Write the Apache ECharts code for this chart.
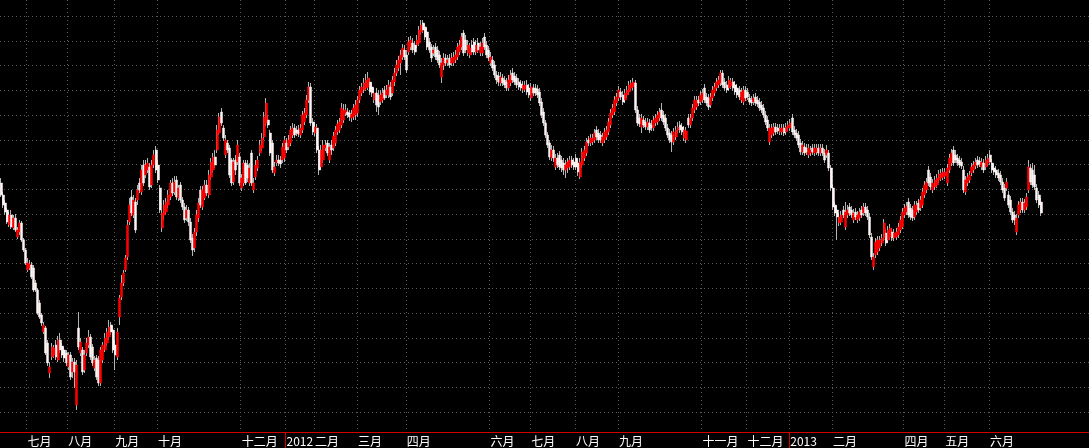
<!DOCTYPE html>
<html><head><meta charset="utf-8">
<script src="https://cdn.jsdelivr.net/npm/echarts@6/dist/echarts.min.js"></script>
<style>html,body{margin:0;padding:0;background:#000;}#c{width:1089px;height:448px;}</style>
</head><body><div id="c"></div>
<script>
const opens = [
2209,2197,2189,2182,2167,2177,2164,2174,2155,2160,
2169,2152,2142,2122,2124,2127,2124,2109,2102,2089,
2077,2060,2064,2049,2019,2035,2037,2047,2032,2052,
2046,2042,2039,2025,2037,2020,2030,1987,2064,2039,
2042,2022,2039,2047,2055,2045,2024,2034,2032,2009,
2032,2042,2049,2055,2067,2062,2047,2035,2075,2095,
2109,2122,2135,2170,2195,2177,2190,2192,2209,2200,
2227,2217,2222,2225,2207,2227,2242,2227,2204,2164,
2177,2180,2187,2195,2209,2200,2212,2194,2207,2192,
2185,2174,2182,2170,2154,2144,2160,2174,2202,2185,
2194,2207,2197,2215,2222,2235,2242,2259,2280,2264,
2237,2249,2244,2232,2210,2232,2230,2235,2204,2209,
2229,2227,2209,2239,2202,2215,2224,2239,2244,2255,
2269,2272,2259,2249,2219,2229,2232,2232,2232,2234,
2249,2245,2249,2257,2264,2262,2262,2257,2262,2270,
2277,2292,2305,2270,2259,2264,2242,2225,2232,2244,
2249,2232,2247,2244,2249,2260,2262,2267,2272,2279,
2280,2279,2274,2275,2277,2279,2292,2299,2302,2304,
2305,2310,2305,2292,2299,2297,2290,2292,2302,2297,
2297,2305,2299,2310,2319,2324,2329,2335,2342,2337,
2340,2345,2349,2347,2347,2349,2360,2369,2365,2360,
2350,2345,2339,2345,2342,2337,2315,2327,2334,2329,
2334,2329,2329,2332,2335,2340,2345,2359,2352,2339,
2337,2347,2350,2340,2349,2339,2339,2355,2347,2342,
2329,2332,2327,2317,2316,2309,2314,2312,2310,2304,
2309,2319,2316,2314,2310,2308,2302,2303,2307,2304,
2294,2304,2304,2303,2300,2290,2280,2269,2257,2249,
2234,2242,2225,2234,2237,2232,2229,2222,2224,2225,
2232,2230,2234,2229,2215,2227,2234,2239,2252,2249,
2250,2252,2262,2259,2257,2249,2252,2255,2260,2267,
2277,2280,2289,2294,2300,2297,2292,2297,2300,2304,
2305,2309,2282,2274,2265,2272,2270,2265,2269,2267,
2264,2269,2270,2274,2282,2277,2274,2264,2259,2257,
2250,2255,2262,2267,2265,2254,2252,2274,2267,2274,
2282,2285,2292,2290,2292,2304,2295,2294,2287,2294,
2299,2304,2307,2309,2319,2310,2307,2304,2306,2310,
2307,2304,2302,2292,2290,2302,2300,2294,2292,2290,
2295,2292,2290,2287,2284,2277,2272,2250,2257,2259,
2265,2264,2260,2260,2264,2260,2264,2264,2274,2262,
2259,2257,2249,2240,2245,2244,2237,2239,2244,2239,
2240,2244,2239,2244,2239,2237,2239,2224,2204,2187,
2182,2169,2170,2182,2165,2177,2185,2182,2172,2180,
2172,2174,2182,2179,2185,2182,2175,2155,2125,2137,
2140,2144,2149,2154,2159,2152,2155,2160,2154,2155,
2157,2162,2165,2177,2180,2190,2184,2182,2175,2180,
2189,2184,2187,2197,2202,2222,2215,2202,2205,2207,
2212,2214,2215,2216,2209,2222,2229,2242,2237,2234,
2232,2230,2222,2200,2209,2212,2219,2222,2226,2232,
2231,2225,2229,2225,2229,2237,2229,2224,2222,2219,
2217,2210,2204,2204,2197,2192,2180,2177,2160,2177,
2182,2190,2182,2185,2202,2224,2222,2217,2204,2197,
2190
];
const closes = [
2197,2187,2180,2170,2177,2165,2174,2162,2162,2169,
2152,2142,2129,2129,2128,2115,2102,2102,2079,2075,
2069,2067,2039,2029,2025,2045,2044,2035,2052,2042,
2037,2034,2029,2037,2015,2030,2020,2027,2045,2050,
2020,2037,2049,2055,2035,2029,2032,2015,2009,2042,
2047,2054,2060,2065,2060,2042,2037,2060,2094,2109,
2119,2134,2167,2187,2179,2192,2162,2202,2202,2222,
2209,2227,2229,2205,2227,2237,2222,2212,2182,2179,
2187,2190,2197,2209,2199,2210,2195,2204,2192,2185,
2172,2182,2170,2152,2142,2160,2177,2189,2187,2202,
2207,2199,2217,2230,2235,2227,2262,2275,2269,2254,
2252,2242,2217,2209,2230,2222,2247,2209,2214,2229,
2209,2214,2224,2209,2209,2227,2232,2247,2254,2275,
2289,2267,2239,2222,2225,2232,2229,2228,2245,2252,
2242,2252,2262,2264,2257,2259,2258,2264,2277,2279,
2292,2305,2269,2260,2265,2242,2222,2242,2247,2247,
2239,2245,2242,2256,2262,2268,2270,2284,2282,2282,
2277,2275,2278,2284,2287,2292,2302,2305,2309,2312,
2314,2300,2299,2299,2287,2285,2297,2299,2294,2302,
2307,2295,2312,2319,2327,2332,2337,2344,2335,2322,
2350,2352,2342,2340,2352,2362,2367,2362,2355,2345,
2342,2334,2342,2335,2332,2327,2329,2334,2329,2332,
2327,2334,2335,2337,2345,2347,2355,2339,2342,2347,
2344,2340,2340,2347,2342,2345,2349,2345,2337,2334,
2335,2324,2317,2312,2310,2315,2309,2307,2304,2312,
2317,2312,2310,2307,2305,2304,2307,2307,2300,2297,
2305,2299,2299,2297,2289,2277,2269,2257,2247,2235,
2242,2234,2234,2227,2225,2224,2222,2227,2230,2232,
2227,2225,2225,2220,2230,2240,2242,2250,2249,2254,
2254,2259,2255,2252,2252,2255,2260,2262,2270,2279,
2284,2292,2295,2302,2295,2290,2299,2302,2307,2309,
2310,2282,2269,2268,2274,2267,2265,2270,2262,2264,
2272,2274,2277,2280,2274,2270,2264,2257,2252,2250,
2260,2262,2265,2262,2260,2262,2261,2267,2274,2284,
2292,2292,2289,2297,2299,2292,2289,2285,2295,2302,
2305,2310,2312,2319,2307,2304,2302,2312,2310,2304,
2300,2297,2295,2300,2302,2294,2295,2290,2289,2294,
2289,2288,2284,2282,2277,2270,2264,2264,2264,2265,
2260,2261,2264,2264,2259,2265,2267,2269,2260,2257,
2254,2247,2240,2247,2239,2240,2244,2242,2240,2244,
2244,2239,2244,2239,2232,2242,2224,2204,2185,2179,
2175,2175,2177,2177,2180,2182,2179,2177,2179,2175,
2177,2180,2177,2185,2179,2175,2157,2135,2135,2150,
2152,2152,2154,2169,2149,2162,2164,2154,2159,2160,
2165,2172,2180,2184,2186,2177,2175,2174,2187,2187,
2182,2192,2200,2207,2210,2209,2205,2209,2212,2214,
2218,2219,2220,2220,2224,2234,2239,2229,2232,2229,
2227,2226,2202,2212,2215,2217,2225,2227,2230,2227,
2228,2230,2222,2232,2234,2230,2222,2220,2217,2214,
2210,2202,2194,2210,2187,2180,2172,2172,2174,2187,
2190,2182,2189,2195,2225,2210,2207,2205,2192,2187,
2179
];
const lows = [
2195,2184,2177,2168,2165,2163,2162,2160,2153,2157,
2150,2140,2127,2120,2122,2113,2100,2100,2077,2073,
2066,2058,2037,2026,2014,2032,2034,2032,2030,2039,
2034,2030,2026,2022,2012,2014,2004,1982,2042,2036,
2017,2019,2036,2044,2032,2026,2021,2012,2006,2006,
2029,2040,2046,2052,2057,2039,2022,2032,2067,2092,
2106,2120,2132,2167,2176,2174,2159,2187,2199,2197,
2206,2214,2219,2202,2204,2224,2219,2209,2179,2160,
2172,2177,2184,2192,2196,2197,2192,2191,2189,2182,
2169,2171,2166,2149,2136,2140,2156,2170,2184,2182,
2192,2196,2194,2212,2219,2224,2239,2257,2266,2251,
2234,2239,2214,2206,2207,2217,2227,2206,2201,2206,
2207,2210,2206,2206,2199,2212,2221,2236,2241,2252,
2266,2264,2236,2219,2216,2226,2226,2224,2229,2230,
2239,2242,2246,2254,2254,2256,2255,2254,2259,2267,
2274,2289,2266,2257,2256,2239,2217,2222,2229,2241,
2236,2229,2237,2241,2246,2257,2259,2264,2269,2276,
2274,2271,2270,2272,2272,2275,2289,2296,2299,2301,
2302,2297,2295,2289,2280,2277,2287,2289,2292,2294,
2294,2292,2296,2306,2316,2321,2317,2332,2332,2319,
2337,2342,2339,2337,2344,2346,2357,2359,2352,2342,
2339,2330,2336,2332,2329,2324,2309,2322,2326,2326,
2324,2326,2326,2329,2332,2337,2342,2336,2339,2336,
2334,2337,2337,2337,2339,2336,2336,2342,2334,2331,
2326,2321,2314,2308,2306,2306,2306,2304,2301,2301,
2306,2309,2307,2304,2302,2301,2299,2300,2297,2294,
2291,2296,2296,2294,2286,2274,2266,2254,2244,2232,
2231,2230,2222,2224,2222,2220,2217,2214,2219,2222,
2224,2222,2222,2216,2213,2224,2231,2236,2246,2246,
2247,2249,2252,2249,2249,2246,2249,2252,2257,2264,
2274,2277,2286,2291,2292,2287,2289,2294,2297,2301,
2302,2279,2266,2265,2259,2264,2262,2262,2259,2261,
2261,2266,2267,2271,2271,2267,2261,2254,2249,2240,
2247,2252,2259,2259,2257,2251,2249,2264,2264,2271,
2279,2282,2286,2287,2289,2289,2286,2282,2284,2291,
2296,2301,2304,2306,2304,2301,2299,2301,2303,2301,
2297,2294,2292,2289,2287,2291,2292,2287,2286,2287,
2286,2285,2281,2279,2274,2267,2261,2247,2254,2256,
2257,2258,2257,2257,2256,2257,2261,2261,2257,2254,
2251,2244,2237,2237,2236,2237,2234,2236,2237,2236,
2237,2236,2236,2236,2229,2234,2221,2201,2182,2176,
2152,2166,2167,2174,2162,2174,2176,2174,2169,2172,
2169,2171,2174,2176,2176,2172,2154,2132,2122,2134,
2137,2141,2146,2151,2146,2149,2152,2151,2151,2152,
2154,2159,2163,2174,2177,2174,2172,2171,2172,2177,
2179,2181,2184,2194,2199,2206,2202,2199,2202,2204,
2209,2211,2212,2213,2206,2219,2226,2226,2229,2226,
2224,2223,2199,2197,2206,2209,2216,2219,2223,2224,
2225,2222,2219,2222,2226,2227,2219,2217,2214,2211,
2207,2199,2191,2201,2184,2177,2169,2167,2157,2174,
2179,2179,2179,2182,2199,2207,2204,2202,2189,2184,
2176
];
const highs = [
2214,2200,2192,2184,2180,2182,2177,2178,2165,2172,
2171,2154,2144,2134,2132,2130,2127,2112,2104,2092,
2079,2070,2066,2052,2030,2049,2047,2052,2056,2059,
2049,2045,2042,2040,2040,2034,2034,2032,2080,2054,
2045,2042,2054,2062,2058,2048,2036,2037,2036,2045,
2050,2059,2064,2072,2070,2066,2052,2064,2097,2117,
2122,2137,2172,2194,2202,2197,2194,2207,2214,2227,
2232,2232,2234,2229,2232,2242,2246,2232,2207,2182,
2192,2194,2202,2212,2214,2216,2216,2207,2210,2195,
2189,2187,2185,2174,2158,2164,2182,2194,2206,2206,
2212,2212,2222,2234,2239,2242,2267,2279,2284,2267,
2257,2252,2247,2234,2234,2237,2252,2239,2218,2232,
2232,2232,2229,2242,2214,2232,2236,2252,2259,2280,
2294,2277,2262,2252,2230,2237,2237,2236,2249,2256,
2254,2257,2266,2269,2268,2266,2267,2268,2281,2284,
2297,2310,2309,2274,2270,2268,2246,2247,2252,2252,
2252,2249,2252,2260,2266,2272,2274,2289,2288,2288,
2284,2282,2282,2288,2292,2296,2306,2309,2314,2318,
2320,2314,2309,2304,2304,2302,2302,2304,2306,2307,
2312,2310,2316,2324,2332,2336,2342,2348,2347,2342,
2355,2356,2354,2351,2357,2366,2372,2372,2368,2364,
2354,2348,2347,2349,2346,2341,2334,2339,2338,2337,
2338,2339,2340,2342,2349,2352,2359,2362,2357,2352,
2349,2352,2354,2352,2354,2350,2354,2359,2351,2346,
2340,2336,2331,2321,2320,2320,2318,2316,2314,2317,
2322,2324,2320,2318,2314,2312,2311,2311,2312,2308,
2309,2308,2308,2307,2304,2294,2284,2272,2260,2252,
2247,2246,2238,2239,2241,2236,2234,2232,2234,2236,
2236,2234,2238,2233,2234,2244,2246,2254,2256,2258,
2258,2263,2266,2263,2261,2259,2264,2266,2274,2283,
2288,2296,2299,2306,2304,2301,2303,2306,2311,2312,
2314,2312,2286,2278,2278,2276,2274,2274,2273,2272,
2276,2278,2281,2284,2289,2281,2278,2268,2263,2261,
2264,2266,2270,2271,2269,2266,2265,2278,2278,2288,
2296,2296,2296,2301,2303,2308,2299,2298,2299,2306,
2309,2314,2316,2322,2322,2314,2311,2316,2314,2314,
2311,2308,2306,2304,2306,2306,2304,2298,2296,2298,
2299,2296,2294,2291,2288,2281,2276,2268,2268,2269,
2269,2268,2268,2268,2268,2269,2271,2273,2278,2266,
2263,2261,2253,2251,2249,2248,2248,2246,2248,2248,
2248,2248,2248,2248,2243,2247,2242,2227,2207,2190,
2186,2179,2181,2186,2190,2187,2189,2186,2183,2184,
2181,2184,2186,2189,2189,2186,2179,2159,2139,2154,
2156,2156,2158,2173,2163,2166,2168,2164,2163,2164,
2169,2176,2184,2188,2190,2194,2188,2186,2191,2191,
2193,2196,2204,2211,2214,2226,2219,2213,2216,2218,
2222,2223,2224,2224,2228,2238,2243,2246,2242,2238,
2236,2234,2226,2216,2219,2221,2229,2231,2234,2236,
2235,2234,2233,2236,2238,2242,2233,2228,2226,2223,
2221,2214,2208,2214,2201,2196,2184,2181,2178,2191,
2194,2194,2193,2199,2232,2228,2229,2227,2208,2201,
2194
];
const monthLabels = ['七月','八月','九月','十月','十二月','2012','二月','三月','四月','六月','七月','八月','九月','十一月','十二月','2013','二月','四月','五月','六月'];
const monthStartIndex = [13,33,56,77,118,140,154,175,199,240,260,282,303,344,366,387,408,443,463,485];
const yearStartIndex = [140,387];
const totalSlots = 534;
const gridLevels = [1980,2004.75,2029.5,2054.25,2079,2103.75,2128.5,2153.25,2178,2202.75,2227.5,2252.25,2277,2301.75,2326.5,2351.25,2376];

const categories = Array.from({length: totalSlots}, (_, i) => 'd' + i);
const labelAt = {};
monthStartIndex.forEach((idx, k) => { labelAt[idx] = monthLabels[k]; });
const yearSet = new Set(yearStartIndex);
const ohlc = opens.map((o, i) => [o, closes[i], lows[i], highs[i]]);
const bodies = opens.map((o, i) => [o, closes[i], Math.min(o, closes[i]), Math.max(o, closes[i])]);
const idxOf = v => parseInt(String(v).slice(1), 10);

const chart = echarts.init(document.getElementById('c'), null, {renderer: 'canvas'});
chart.setOption({
  backgroundColor: '#000000',
  animation: false,
  grid: {left: 0, right: 0, top: 0, bottom: 16},
  xAxis: {
    type: 'category',
    data: categories,
    boundaryGap: true,
    axisLine: {show: true, lineStyle: {color: '#d40000', width: 1}},
    axisTick: {show: true, interval: (i) => yearSet.has(i), length: 16, lineStyle: {color: '#d40000', width: 1}},
    axisLabel: {
      show: true,
      interval: (i) => labelAt[i] !== undefined,
      formatter: (v) => labelAt[idxOf(v)] || '',
      color: '#ffffff',
      fontSize: 12,
      align: 'left',
      margin: 3,
      fontFamily: '"Noto Sans CJK SC", "Liberation Sans", sans-serif'
    },
    splitLine: {show: true, interval: (i) => labelAt[i] !== undefined, lineStyle: {color: '#5a5a5a', type: [1, 3], width: 1}}
  },
  yAxis: {
    type: 'value', min: 1960, max: 2392, show: false,
    splitLine: {show: false}
  },
  series: [
    {
      name: 'wick',
      type: 'candlestick',
      data: ohlc,
      barWidth: 0.4,
      silent: true,
      itemStyle: {color: '#b4b4b4', color0: '#b4b4b4', borderColor: '#b4b4b4', borderColor0: '#b4b4b4', borderWidth: 1},
      markLine: {
        silent: true,
        z: 1,
        symbol: ['none', 'none'],
        label: {show: false},
        lineStyle: {color: '#5a5a5a', type: [1, 3], width: 1},
        data: gridLevels.map(v => ({yAxis: v}))
      }
    },
    {
      name: 'body',
      type: 'candlestick',
      data: bodies,
      barWidth: 2.5,
      barMaxWidth: 3,
      silent: true,
      itemStyle: {color: '#ff0000', color0: '#fff4f4', borderColor: '#ff0000', borderColor0: '#fff4f4', borderWidth: 0.5}
    }
  ]
});
</script>
</body></html>
